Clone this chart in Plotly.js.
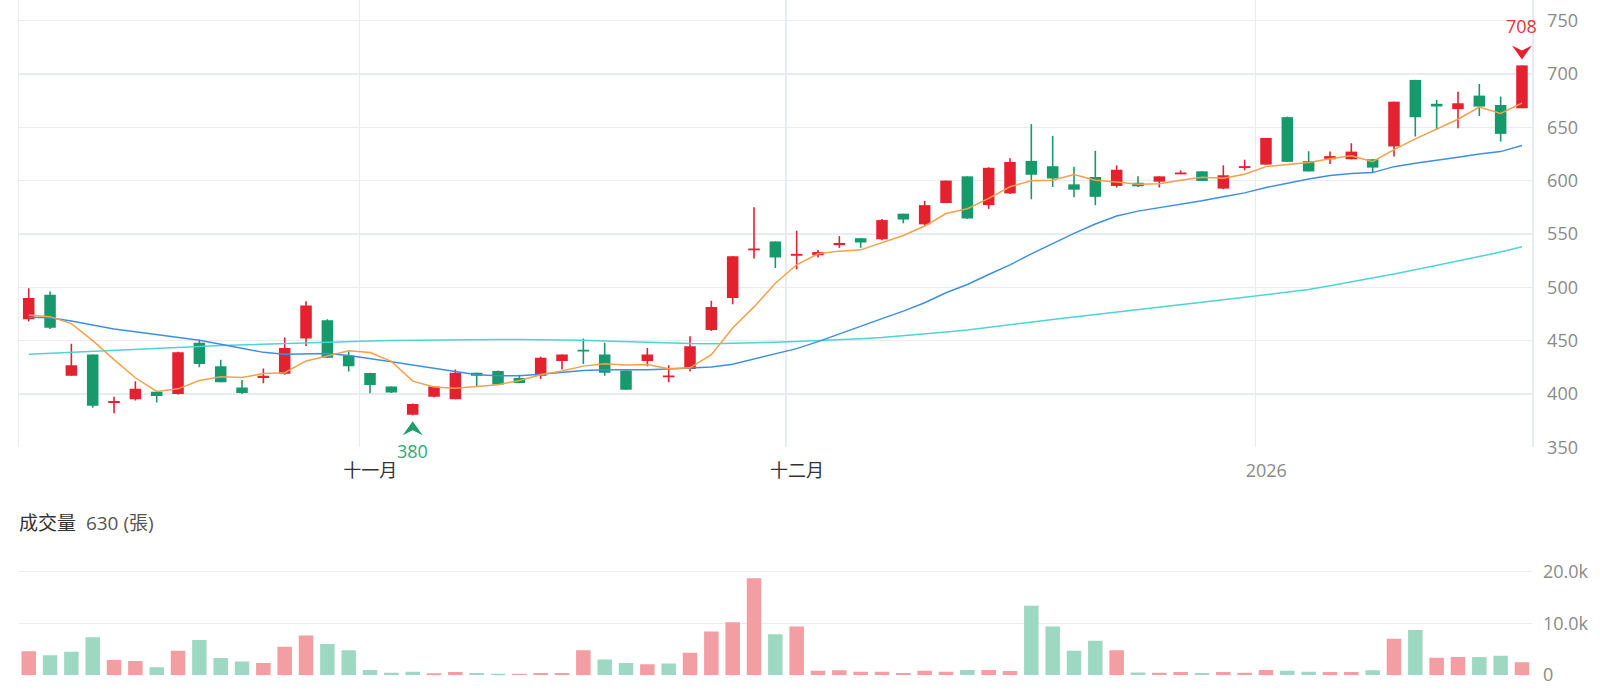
<!DOCTYPE html>
<html><head><meta charset="utf-8">
<script src="https://cdn.plot.ly/plotly-3.0.1.min.js"></script>
<style>html,body{margin:0;padding:0;background:#fff}#chart{width:1600px;height:691px}</style>
</head><body><div id="chart"></div>
<script>
const dates = [
 '2025-10-08','2025-10-09','2025-10-13','2025-10-14','2025-10-15','2025-10-16','2025-10-17',
 '2025-10-20','2025-10-21','2025-10-22','2025-10-23','2025-10-27','2025-10-28','2025-10-29','2025-10-30','2025-10-31',
 '2025-11-03','2025-11-04','2025-11-05','2025-11-06','2025-11-07','2025-11-10','2025-11-11','2025-11-12','2025-11-13','2025-11-14',
 '2025-11-17','2025-11-18','2025-11-19','2025-11-20','2025-11-21','2025-11-24','2025-11-25','2025-11-26','2025-11-27','2025-11-28',
 '2025-12-01','2025-12-02','2025-12-03','2025-12-04','2025-12-05','2025-12-08','2025-12-09','2025-12-10','2025-12-11','2025-12-12',
 '2025-12-15','2025-12-16','2025-12-17','2025-12-18','2025-12-19','2025-12-22','2025-12-23','2025-12-24','2025-12-26',
 '2025-12-29','2025-12-30','2025-12-31',
 '2026-01-02','2026-01-05','2026-01-06','2026-01-07','2026-01-08','2026-01-09','2026-01-12','2026-01-13','2026-01-14',
 '2026-01-15','2026-01-16','2026-01-19','2026-01-20'
];
const open = [470,493,417,437,392,395,402,400,448,426,406,415,419,452,469,436,
 419.7,407,380.5,397.5,395,420,421.5,415,417,431,441,437,422,431,416,423.5,460,490,535,543,
 530,530,539.5,546,545,569,559,579,604,577,588,618.5,613.5,596.5,603.4,595,598,599,606,608.7,592.5,612,
 615,659.5,618.2,620,620,620,632,694.4,672,667,679.7,670.9,667.8];
const high = [499,496,447,437,397.5,412,403,439.5,451,432,413,424,453,487,470,440,
 420,407,391,407,423,420,422,418,435,437,452,448,422,443,427,454,487.5,529,575,543,
 553,535,548,546,564,569,581,600,604,612.5,621,653,642,613,628,614.3,604,604,609.6,608.7,614.3,619.6,
 640,660,627.5,627.2,635,620,674,694.4,675.6,683.4,690.6,678.8,708];
const low = [468,461,417,387,382,394,392,399.5,425,411,400,410,418,445,434,421,
 400.6,401,380,397,395,407,409,410,414,423,428,417,404,426,411,421,459,484,527,518,
 517,528,537,537,544,560,558,579,564,573.5,587.5,582.5,594,584.5,577,593.5,594,593.5,606,599.7,592,609.6,
 615,617.4,608.5,615.6,620,607,622.5,641.3,647.5,649,660.6,636.6,667.8];
const close = [490,462,427,389,393,405,398,439,428,411,401,417,443,483,434,426,
 408.4,401.3,390.5,407,420,417,409,410.3,434,437,440.3,420,404,437,417,444.7,481.5,529,536,528,
 531,533,541.5,542,563,563.5,577,600,564.5,612,617.5,605.5,602,591.5,584.8,610.2,594.7,604,607.5,599.7,605,613.4,
 640,617.6,608.6,623,627.2,612.2,674,659.4,669.5,672.5,669.4,643.8,708];
const volume = [4600,3800,4500,7300,2900,2700,1500,4700,6750,3300,2600,2300,5450,7660,6000,4800,
 970,450,650,320,580,390,260,260,390,390,4800,3000,2300,2100,2200,4300,8400,10200,18700,7900,
 9400,840,900,650,650,390,840,650,970,970,780,13400,9400,4700,6600,4800,500,450,580,390,580,450,
 970,840,650,580,580,900,7000,8700,3350,3500,3500,3700,2450];
const prevClose = 484;
const ma5Head = [474, 472.5, 466, 450];
const ma20 = [472,471.5,468.4,464.7,461,458.4,455.5,452.8,450.3,446.6,
 442.8,439,437.2,437.8,438,436,432.8,430.3,427.2,424,
 420.5,418,417.2,417.2,418.4,420.5,422,422.8,422.5,422.8,
 423.4,424.2,425.4,427.9,432.6,437.2,442.5,449.1,456.5,463.7,
 470.6,477.7,485.5,494.9,502.6,512,521,531.4,541.3,550.6,
 559.3,566.8,571.4,574.5,577.6,581.1,584.8,588.5,593.5,597.8,
 601.5,604.7,606.6,607.5,613.1,616.3,618.8,621.9,625,627.2,633];
const ma60 = [437.2,438.2,439.1,440,440.8,441.5,442.5,443.5,444.6,445.4,
 446.1,446.8,447.4,448,448.6,449.2,449.7,450.1,450.4,450.6,
 450.8,450.9,451,451.1,451.1,450.9,450.4,449.7,449,448.3,
 447.7,447.3,447.2,447.4,447.8,448.4,449.1,449.9,450.8,451.8,
 453,454.5,456.2,458,460,462.3,465,467.4,469.8,472.2,
 474.6,476.9,479.2,481.5,483.8,486,488.3,490.6,493,495.5,
 498,501.5,505,508.5,512.5,516.5,520.5,524.5,528.5,533,538];
const monthLabels = {11: '十一月', 12: '十二月', 1: '2026'};
const volumeTitle = '成交量';
const volumeNote = '630 (張)';

const UP = '#e3212f', DOWN = '#16996b', VUP = '#f29ea3', VDOWN = '#9dd8c3';
const GRID = '#e8ebf3';
const FONT = "'Open Sans', 'Noto Sans CJK TC', sans-serif";

const idx = close.map((_, i) => i);
const up = close.map((c, i) => c >= open[i]);
const cColor = up.map(u => u ? UP : DOWN);
const bodyLen = close.map((c, i) => Math.max(Math.abs(c - open[i]), 1.7));
const bodyBase = close.map((c, i) => (c + open[i]) / 2 - bodyLen[i] / 2);
const wickLen = high.map((h, i) => h - low[i]);
const vColor = close.map((c, i) => c >= (i ? close[i - 1] : prevClose) ? VUP : VDOWN);
const ma5 = close.map((_, i) => i < 4 ? ma5Head[i] : close.slice(i - 4, i + 1).reduce((a, b) => a + b, 0) / 5);

const tickvals = [], ticktext = [];
for (let i = 1; i < dates.length; i++) {
  const m = +dates[i].slice(5, 7), pm = +dates[i - 1].slice(5, 7);
  if (m !== pm) {
    tickvals.push(i - 0.5);
    ticktext.push(m === 1 ? '<span style="color:#8a8a8a">' + dates[i].slice(0, 4) + '</span>' : monthLabels[m]);
  }
}
let iMin = 0, iMax = 0;
low.forEach((v, i) => { if (v < low[iMin]) iMin = i; });
high.forEach((v, i) => { if (v > high[iMax]) iMax = i; });

const traces = [
  {type: 'bar', x: idx, base: low, y: wickLen, width: 0.075, marker: {color: cColor, line: {width: 0}}, xaxis: 'x', yaxis: 'y', hoverinfo: 'skip'},
  {type: 'bar', x: idx, base: bodyBase, y: bodyLen, width: 0.54, marker: {color: cColor, line: {width: 0}}, xaxis: 'x', yaxis: 'y', hoverinfo: 'skip'},
  {type: 'scatter', mode: 'lines', x: idx, y: ma60, line: {color: '#4dd5d3', width: 1.5}, xaxis: 'x', yaxis: 'y'},
  {type: 'scatter', mode: 'lines', x: idx, y: ma20, line: {color: '#3f8fe0', width: 1.5}, xaxis: 'x', yaxis: 'y'},
  {type: 'scatter', mode: 'lines', x: idx, y: ma5, line: {color: '#f5a04a', width: 1.5}, xaxis: 'x', yaxis: 'y'},
  {type: 'bar', x: idx, y: volume, width: 0.68, marker: {color: vColor, line: {width: 0}}, xaxis: 'x2', yaxis: 'y2', hoverinfo: 'skip'}
];

const layout = {
  width: 1600, height: 691,
  margin: {l: 19, r: 68, t: 0, b: 16},
  paper_bgcolor: '#fff', plot_bgcolor: '#fff',
  showlegend: false, barmode: 'overlay',
  font: {family: FONT, color: '#333'},
  xaxis: {domain: [0, 1], range: [-0.455, 70.47], anchor: 'y', tickmode: 'array', tickvals: tickvals, ticktext: ticktext,
    showgrid: true, gridcolor: GRID, gridwidth: 1.5, zeroline: false, showline: false, ticks: '',
    tickfont: {size: 18, color: '#333'}, ticklabelshift: 11, ticklabelstandoff: 11, fixedrange: true},
  yaxis: {domain: [0.3373, 1], range: [350, 769.3], side: 'right', anchor: 'x', tickmode: 'linear', tick0: 350, dtick: 50,
    gridcolor: GRID, gridwidth: 1.5, zeroline: false, showline: true, mirror: true, linecolor: GRID, linewidth: 1.5,
    ticks: '', tickfont: {size: 18, color: '#8a8a8a'}, ticklabelstandoff: 10, fixedrange: true},
  xaxis2: {domain: [0, 1], range: [-0.455, 70.47], anchor: 'y2', showgrid: false, showticklabels: false, zeroline: false, ticks: '', fixedrange: true},
  yaxis2: {domain: [0, 0.1609], range: [0, 21000], side: 'right', anchor: 'x2', tickmode: 'array',
    tickvals: [0, 10000, 20000], ticktext: ['0', '10.0k', '20.0k'],
    gridcolor: GRID, gridwidth: 1.5, zeroline: false, showline: false, ticks: '',
    tickfont: {size: 18, color: '#8a8a8a'}, ticklabelstandoff: 10, fixedrange: true},
  annotations: [
    {xref: 'x', yref: 'y', x: iMin, y: low[iMin], text: String(low[iMin]), showarrow: false, yshift: -36,
     font: {size: 18, color: '#2aac78'}},
    {xref: 'x', yref: 'y', x: iMax, y: high[iMax], text: String(high[iMax]), showarrow: false, yshift: 39,
     font: {size: 18, color: '#e8333d'}},
    {xref: 'paper', yref: 'paper', x: 0, y: 0.2259, xanchor: 'left', yanchor: 'middle', xshift: -2, showarrow: false,
     text: '<span style="color:#333">' + volumeTitle + '</span>\u00a0\u00a0<span style="color:#555">' + volumeNote + '</span>',
     font: {size: 19}}
  ],
  shapes: [
    {type: 'path', xref: 'x', yref: 'y', xsizemode: 'pixel', ysizemode: 'pixel', xanchor: iMin, yanchor: low[iMin],
     path: 'M0,-6L-10,-20L0,-15L10,-20Z', fillcolor: '#1f9e6c', line: {width: 0}},
    {type: 'path', xref: 'x', yref: 'y', xsizemode: 'pixel', ysizemode: 'pixel', xanchor: iMax, yanchor: high[iMax],
     path: 'M0,6L-10,20L0,15L10,20Z', fillcolor: '#e3212f', line: {width: 0}}
  ]
};
Plotly.newPlot('chart', traces, layout, {displayModeBar: false, staticPlot: true});
</script>
</body></html>
